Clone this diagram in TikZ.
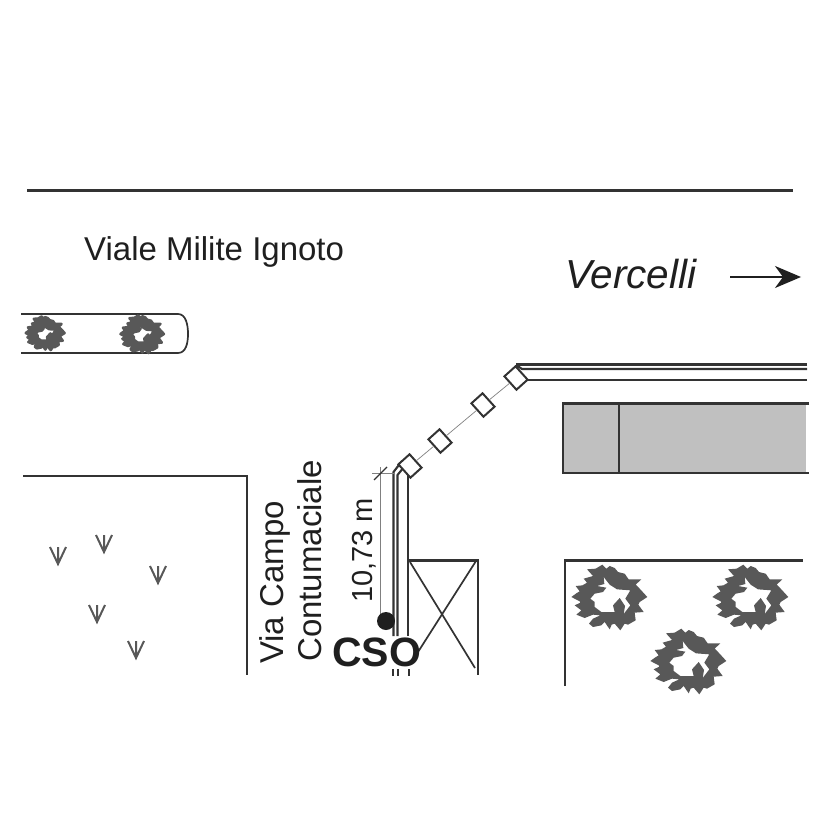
\documentclass[tikz,border=0pt]{standalone}
\usepackage{fontspec}
\setmainfont{Liberation Sans}
\usetikzlibrary{arrows.meta}
\definecolor{ink}{HTML}{333333}
\definecolor{leaf}{HTML}{585858}
\definecolor{block}{HTML}{C0C0C0}
\tikzset{
  wall/.style={draw=ink,line width=2.1pt},
  thin wall/.style={draw=ink,line width=1.7pt},
  faint/.style={draw=gray,line width=1pt},
  valve/.style={draw=ink,line width=2pt,fill=white,rectangle,minimum width=18pt,minimum height=15pt,inner sep=0pt,rotate=-48},
  label/.style={inner sep=0pt,anchor=base west,text=black!88},
  small crown/.style={every path/.style={draw=leaf,line width=2.6pt,line join=round}},
  tree/.pic={
    \fill[leaf,even odd rule,shift={(-148,-125)}]
      (35,125)--(50,114)--(60,108)--(48,92)--(68,90)--(82,82)--(72,70)--(100,62)--(82,42)--(108,40)--(128,28)--(140,40)--(150,32)--(165,38)--(175,50)--(195,55)--(207,72)--(245,72)--(228,88)--(240,100)--(263,125)--(240,140)--(236,148)--(252,170)--(225,172)--(228,195)--(205,208)--(195,205)--(182,225)--(165,205)--(156,208)--(150,222)--(135,200)--(125,210)--(100,215)--(88,205)--(100,190)--(122,180)--(100,178)--(75,188)--(50,178)--(65,165)--(45,150)--(62,142)--(60,138)--cycle
      (132,65)--(150,88)--(172,102)--(212,105)--(197,130)--(212,150)--(192,176)--(196,152)--(180,128)--(160,150)--(165,170)--(125,170)--(105,155)--(105,140)--(92,130)--(105,115)--(130,110)--(140,97)--(112,92)--(134,86)--cycle;
  },
  tuft/.pic={
    \draw[draw=leaf,line width=2pt] (-8,-17)--(0,0)--(8,-17) (0,0)--(0,-17);
  }
}
\begin{document}
\begin{tikzpicture}[x=1pt,y=-1pt]
\useasboundingbox (0,0) rectangle (826,826);
% road edges and labels
\draw[wall] (27,190.5)--(793,190.5);
\node[label,font=\fontsize{33}{33}\selectfont] (viale) at (84,260) {Viale Milite Ignoto};
\node[label,font=\fontsize{40.5}{40.5}\selectfont\itshape] (verc) at (565,288) {Vercelli};
\coordinate (arrowstart) at (730,277);
\coordinate (arrowend) at (801,277);
\draw[black!88,line width=1.8pt,-{Stealth[length=26pt,width=22pt,inset=8pt]}] (arrowstart)--(arrowend);
% median
\draw[thin wall] (21,314)--(178,314) .. controls (186,314) and (188,325) .. (188,334) .. controls (188,343) and (186,353) .. (178,353)--(21,353);
\pic[scale=.17,small crown] at (45,333) {tree};
\pic[scale=.19,small crown] at (142,334) {tree};
% blocks
\draw[wall] (23,476)--(247,476)--(247,675);
\draw[wall] (565,686)--(565,560.5)--(803,560.5);
\fill[block] (563,403.5) rectangle (806,473);
\draw[wall] (809,403.5)--(563,403.5)--(563,473)--(809,473);
\draw[wall] (619,403.5)--(619,473);
% grass
\pic at (58,564) {tuft};
\pic at (104,552) {tuft};
\pic at (158,583) {tuft};
\pic at (97,622) {tuft};
\pic at (136,658) {tuft};
% trees
\pic[scale=.3333] at (609,597) {tree};
\pic[scale=.3333] at (750,597) {tree};
\pic[scale=.3333] at (688,661) {tree};
% pipes
\draw[wall] (807,364.5)--(516,364.5);
\draw[wall] (807,369)--(522,369)--(516,365);
\draw[wall] (807,380)--(528,380);
\draw[wall] (393.5,636)--(393.5,472)--(402,461);
\draw[wall] (397.5,636)--(397.5,475)--(404,467);
\draw[wall] (408,636)--(408,474);
\draw[wall] (393,669)--(393,676) (398,669)--(398,676) (409,669)--(409,676);
% box
\draw[wall] (408,560.5)--(478,560.5)--(478,675);
\draw[thin wall] (410,562)--(475,668);
\draw[thin wall] (476,561)--(418,652);
% dimension
\draw[faint] (380.5,467)--(380.5,615);
\draw[faint] (372,473.5)--(394,473.5);
\draw[ink,line width=1.3pt] (374,480)--(387,467);
% valves
\node[valve] (v1) at (410,466) {};
\node[valve] (v2) at (440,441) {};
\node[valve] (v3) at (483,405) {};
\node[valve] (v4) at (516,378) {};
\draw[faint,line width=.7pt] (v1)--(v2);
\draw[faint,line width=.7pt] (v2)--(v3);
\draw[faint,line width=.7pt] (v3)--(v4);
% labels
\node[circle,fill=black!88,minimum size=18pt,inner sep=0pt] (cso dot) at (386,621) {};
\node[label,font=\fontsize{29}{29}\selectfont,rotate=90] (dim) at (372,603) {10,73 m};
\node[label,font=\fontsize{33}{33}\selectfont,rotate=90] (via) at (283,664) {Via Campo};
\node[label,font=\fontsize{33}{33}\selectfont,rotate=90] (cont) at (321,662) {Contumaciale};
\node[label,font=\fontsize{41}{41}\selectfont\bfseries] (cso) at (332,666) {CSO};
\end{tikzpicture}
\end{document}
